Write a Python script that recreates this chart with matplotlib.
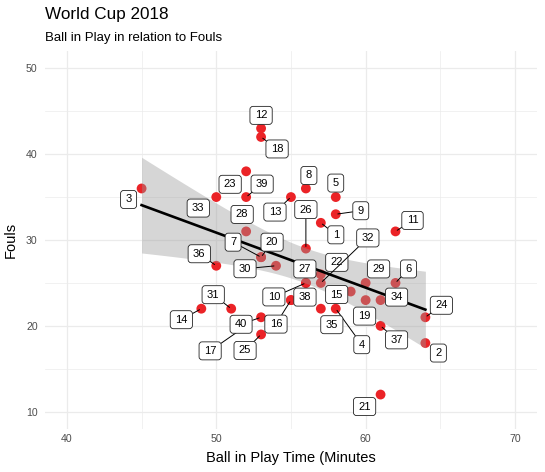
import numpy as np
import matplotlib
matplotlib.use("Agg")
import matplotlib.pyplot as plt
from matplotlib.patches import BoxStyle

plt.rcParams['font.family'] = ['Liberation Sans', 'DejaVu Sans']

# match number, ball in play time (minutes), fouls
match_id = list(range(1, 41))
ball_in_play = [57, 64, 45, 58, 58, 62, 53, 56, 58, 56,
                62, 53, 55, 49, 59, 55, 52, 53, 60, 53,
                61, 57, 52, 64, 53, 56, 56, 52, 60, 54,
                51, 57, 50, 61, 57, 50, 61, 55, 52, 53]
fouls = [32, 18, 36, 22, 35, 25, 28, 36, 33, 25,
         31, 43, 35, 22, 24, 23, 20, 42, 23, 28,
         12, 26, 38, 21, 19, 29, 25, 31, 25, 27,
         22, 25, 35, 23, 22, 27, 20, 23, 35, 21]

# label placement (pixels from the point, y down) as the repel layout left them
label_offset = {
    1: (15, 12), 2: (13, 10), 3: (-13, 11), 4: (26, 36), 5: (0, -14),
    6: (13, -14), 7: (-28, -15), 8: (3, -13), 9: (25, -3.5), 10: (-32, 14),
    11: (17, -11), 12: (0, -13), 13: (-16, 15), 14: (-20, 11), 15: (-14, 3),
    16: (-15, 24), 17: (-36, 25), 18: (16, 12), 19: (-1, 16), 20: (11, -15),
    21: (-16, 12), 22: (16, -12), 23: (-16, 13), 24: (16, -12), 25: (-16, 16),
    26: (0, -39), 27: (-1, -14), 28: (-4, -17), 29: (13, -14), 30: (-31, 3),
    31: (-18, -14), 32: (47, -45), 33: (-18, 11), 34: (16, -3), 35: (11, 16),
    36: (-17, -12), 37: (16, 14), 38: (14, -3), 39: (16, -13), 40: (-20, 7),
}
with_segment = {1, 4, 6, 7, 9, 10, 11, 13, 14, 16, 17, 18, 20, 24, 25, 26,
                30, 31, 32, 36, 37, 39, 40}


def label_box(x0, y0, width, height, mutation_size):
    hp = 0.44 * mutation_size
    vp = 0.36 * mutation_size
    return BoxStyle.Round(pad=0, rounding_size=0.28)(
        x0 - hp, y0 - vp, width + 2 * hp, height + 2 * vp, mutation_size)


W, H = 545, 472
fig = plt.figure(figsize=(W / 100, H / 100), dpi=100)
left, right, top, bottom = 44.5, 537.4, 51.1, 428.9
ax = fig.add_axes([left / W, 1 - bottom / H, (right - left) / W, (bottom - top) / H])

ax.set_xlim(38.5, 71.5)
ax.set_ylim(8, 52)
ax.set_xticks([40, 50, 60, 70])
ax.set_xticks([45, 55, 65], minor=True)
ax.set_yticks([10, 20, 30, 40, 50])
ax.set_yticks([15, 25, 35, 45], minor=True)
ax.grid(which='major', color='#EBEBEB', lw=0.9)
ax.grid(which='minor', color='#EBEBEB', lw=0.5)
ax.set_axisbelow(True)
for s in ax.spines.values():
    s.set_visible(False)
ax.tick_params(which='both', length=0, labelsize=7.6, labelcolor='#4D4D4D')
ax.tick_params(axis='x', pad=4)
ax.tick_params(axis='y', pad=4.9)

x = np.array(ball_in_play, float)
y = np.array(fouls, float)
ax.scatter(x, y, s=50, color='#EB2327', edgecolors='none', zorder=2)

# linear fit with 95% confidence band
n = len(x)
b1, b0 = np.polyfit(x, y, 1)
xs = np.linspace(x.min(), x.max(), 80)
fit = b0 + b1 * xs
resid = y - (b0 + b1 * x)
sd = np.sqrt(np.sum(resid ** 2) / (n - 2))
sxx = np.sum((x - x.mean()) ** 2)
se = sd * np.sqrt(1 / n + (xs - x.mean()) ** 2 / sxx)
t = 2.024
ax.fill_between(xs, fit - t * se, fit + t * se, color='#999999', alpha=0.4, lw=0, zorder=3)
ax.plot(xs, fit, color='black', lw=1.9, zorder=4)

for m, xi, yi in zip(match_id, ball_in_play, fouls):
    dx, dy = label_offset[m]
    arrow = None
    if m in with_segment:
        arrow = dict(arrowstyle='-', color='black', lw=0.7, shrinkA=0, shrinkB=1.5)
    ax.annotate(str(m), (xi, yi), xytext=(dx, -dy), textcoords='offset pixels',
                ha='center', va='center', fontsize=8, color='black', zorder=5,
                bbox=dict(boxstyle=label_box, fc='white', ec='#222222', lw=0.6),
                arrowprops=arrow)

fig.text(45 / W, 1 - 19.3 / H, 'World Cup 2018', fontsize=12.3, va='baseline', ha='left')
fig.text(45 / W, 1 - 41 / H, 'Ball in Play in relation to Fouls', fontsize=9.5,
         va='baseline', ha='left')
fig.text((left + right) / 2 / W, 1 - 461.7 / H, 'Ball in Play Time (Minutes', fontsize=10.5,
         va='baseline', ha='center')
fig.text(11 / W, 1 - (top + bottom) / 2 / H, 'Fouls', fontsize=10.5, rotation=90,
         va='center', ha='center')

fig.savefig('out.png', dpi=100)
